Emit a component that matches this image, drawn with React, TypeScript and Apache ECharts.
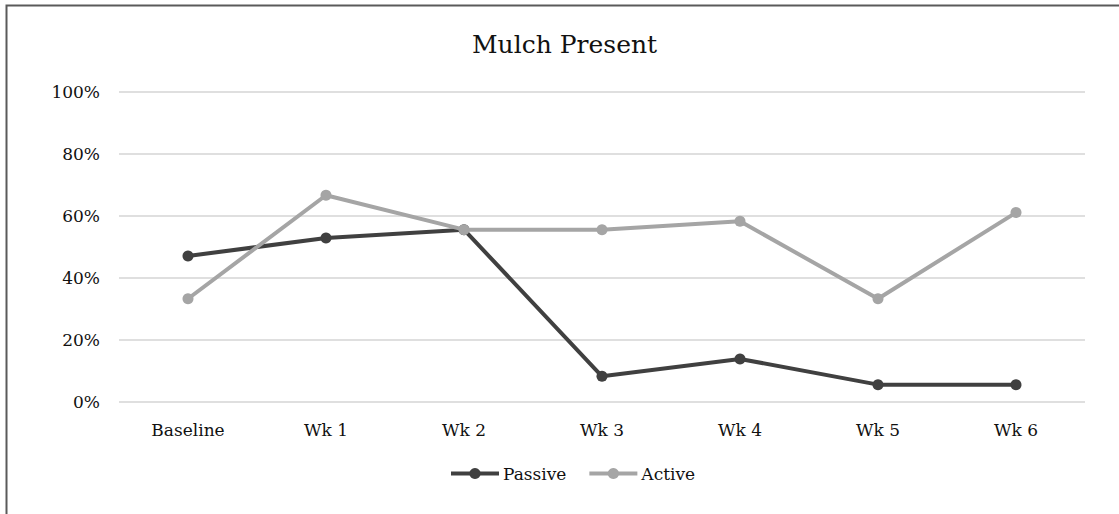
import React, { useEffect, useRef } from "react";
import * as echarts from "echarts";

const categories = ["Baseline", "Wk 1", "Wk 2", "Wk 3", "Wk 4", "Wk 5", "Wk 6"];
const passive = [47.1, 52.9, 55.6, 8.3, 13.9, 5.6, 5.6];
const active = [33.3, 66.7, 55.6, 55.6, 58.3, 33.3, 61.1];
const yTicks = [0, 20, 40, 60, 80, 100];

const FONT = "'DejaVu Serif', 'Liberation Serif', serif";
const PASSIVE_COLOR = "#404040";
const ACTIVE_COLOR = "#a5a5a5";

export default function App() {
  const ref = useRef<HTMLDivElement>(null);

  useEffect(() => {
    if (!ref.current) return;
    const chart = echarts.init(ref.current, undefined, { renderer: "svg" });
    chart.setOption({
      animation: false,
      backgroundColor: "#ffffff",
      textStyle: { fontFamily: FONT },
      title: {
        text: "Mulch Present",
        left: 472,
        top: 32,
        padding: 0,
        textStyle: { fontFamily: FONT, fontSize: 25, fontWeight: "normal", color: "#111" },
      },
      graphic: [
        {
          type: "polyline",
          shape: { points: [[6.5, 520], [6.5, 5.5], [1125, 5.5]] },
          style: { stroke: "#5a5a5a", lineWidth: 2, fill: "none" },
          silent: true,
        },
      ],
      legend: {
        bottom: 27,
        left: 444,
        itemWidth: 48,
        itemHeight: 14,
        itemGap: 21,
        lineStyle: { width: 4 },
        textStyle: { fontFamily: FONT, fontSize: 17, color: "#111", padding: [0, 0, 0, -1] },
        data: ["Passive", "Active"],
      },
      grid: { left: 119, right: 34, top: 92, bottom: 112, containLabel: false },
      xAxis: {
        type: "category",
        data: categories,
        boundaryGap: true,
        axisLine: { show: false },
        axisTick: { show: false },
        axisLabel: { fontFamily: FONT, fontSize: 17, color: "#111", margin: 19 },
      },
      yAxis: {
        type: "value",
        min: yTicks[0],
        max: yTicks[yTicks.length - 1],
        interval: 20,
        axisLine: { show: false },
        axisTick: { show: false },
        splitLine: { lineStyle: { color: "#d4d4d4", width: 1.5 } },
        axisLabel: {
          fontFamily: FONT,
          fontSize: 17,
          color: "#111",
          margin: 19,
          formatter: (v: number) => `${v}%`,
        },
      },
      series: [
        {
          name: "Passive",
          type: "line",
          data: passive,
          symbol: "circle",
          symbolSize: 11,
          lineStyle: { color: PASSIVE_COLOR, width: 4 },
          itemStyle: { color: PASSIVE_COLOR },
          z: 3,
        },
        {
          name: "Active",
          type: "line",
          data: active,
          symbol: "circle",
          symbolSize: 11,
          lineStyle: { color: ACTIVE_COLOR, width: 4 },
          itemStyle: { color: ACTIVE_COLOR },
          z: 4,
        },
      ],
    });
    return () => chart.dispose();
  }, []);

  return (
    <div
      ref={ref}
      style={{ position: "fixed", left: 0, top: 0, width: 1119, height: 514, background: "#fff" }}
    />
  );
}
